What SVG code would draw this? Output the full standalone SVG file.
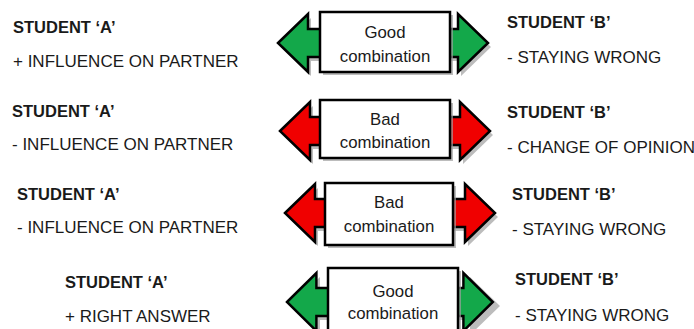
<svg xmlns="http://www.w3.org/2000/svg" width="694" height="329" viewBox="0 0 694 329">
<style>
text{font-family:"Liberation Sans",Arial,sans-serif;font-size:17px;fill:#1a1a1a}
.b{font-weight:bold;font-size:16.5px}
.c{text-anchor:middle;font-size:16.8px}
.arr{stroke:#000;stroke-width:2.5;stroke-linejoin:miter}
.g{fill:#13a84a}
.r{fill:#f00000}
.sh{fill:#a0a0a0;opacity:0.7}
.box{fill:#fff;stroke:#000;stroke-width:2.5}
</style>
<defs>
<polygon id="a1" points="0,0 30,-29 30,-14 180,-14 180,-29 210,0 180,29 180,14 30,14 30,29"/>
</defs>
<g id="connectors">
<g id="arrow1">
<use href="#a1" class="sh" transform="translate(281,47)"/>
<use href="#a1" class="arr g" transform="translate(278,43)"/>
</g>
<g id="arrow2">
<use href="#a1" class="sh" transform="translate(283,135)"/>
<use href="#a1" class="arr r" transform="translate(280,131)"/>
</g>
<g id="arrow3">
<use href="#a1" class="sh" transform="translate(288,217)"/>
<use href="#a1" class="arr r" transform="translate(285,213)"/>
</g>
<g id="arrow4">
<use href="#a1" class="sh" transform="translate(290,306)"/>
<use href="#a1" class="arr g" transform="translate(287,302) scale(0.98,1)"/>
</g>
</g>
<g id="box1">
<rect x="323" y="15" width="130" height="60" class="sh"/>
<rect x="320" y="12" width="130" height="60" class="box"/>
<text x="385" y="38" class="c">Good</text>
<text x="385" y="62" class="c">combination</text>
</g>
<g id="box2">
<rect x="323" y="103" width="130" height="58" class="sh"/>
<rect x="320" y="100" width="130" height="58" class="box"/>
<text x="385" y="125" class="c">Bad</text>
<text x="385" y="148" class="c">combination</text>
</g>
<g id="box3">
<rect x="328" y="186" width="128" height="62" class="sh"/>
<rect x="325" y="183" width="128" height="62" class="box"/>
<text x="389" y="208" class="c">Bad</text>
<text x="389" y="232" class="c">combination</text>
</g>
<g id="box4">
<rect x="331" y="271" width="130" height="64" class="sh"/>
<rect x="328" y="268" width="130" height="64" class="box"/>
<text x="393" y="297" class="c">Good</text>
<text x="393" y="319" class="c">combination</text>
</g>
<g id="studentA1">
<text x="13" y="33" class="b">STUDENT ‘A’</text>
<text x="13" y="67">+ INFLUENCE ON PARTNER</text>
</g>
<g id="studentA2">
<text x="12" y="117" class="b">STUDENT ‘A’</text>
<text x="12" y="150">- INFLUENCE ON PARTNER</text>
</g>
<g id="studentA3">
<text x="17" y="200" class="b">STUDENT ‘A’</text>
<text x="17" y="233">- INFLUENCE ON PARTNER</text>
</g>
<g id="studentA4">
<text x="65" y="288" class="b">STUDENT ‘A’</text>
<text x="65" y="322">+ RIGHT ANSWER</text>
</g>
<g id="studentB1">
<text x="507" y="28" class="b">STUDENT ‘B’</text>
<text x="507" y="63">- STAYING WRONG</text>
</g>
<g id="studentB2">
<text x="507" y="118" class="b">STUDENT ‘B’</text>
<text x="507" y="153">- CHANGE OF OPINION</text>
</g>
<g id="studentB3">
<text x="512" y="200" class="b">STUDENT ‘B’</text>
<text x="512" y="235">- STAYING WRONG</text>
</g>
<g id="studentB4">
<text x="515" y="285" class="b">STUDENT ‘B’</text>
<text x="515" y="321">- STAYING WRONG</text>
</g>
</svg>
